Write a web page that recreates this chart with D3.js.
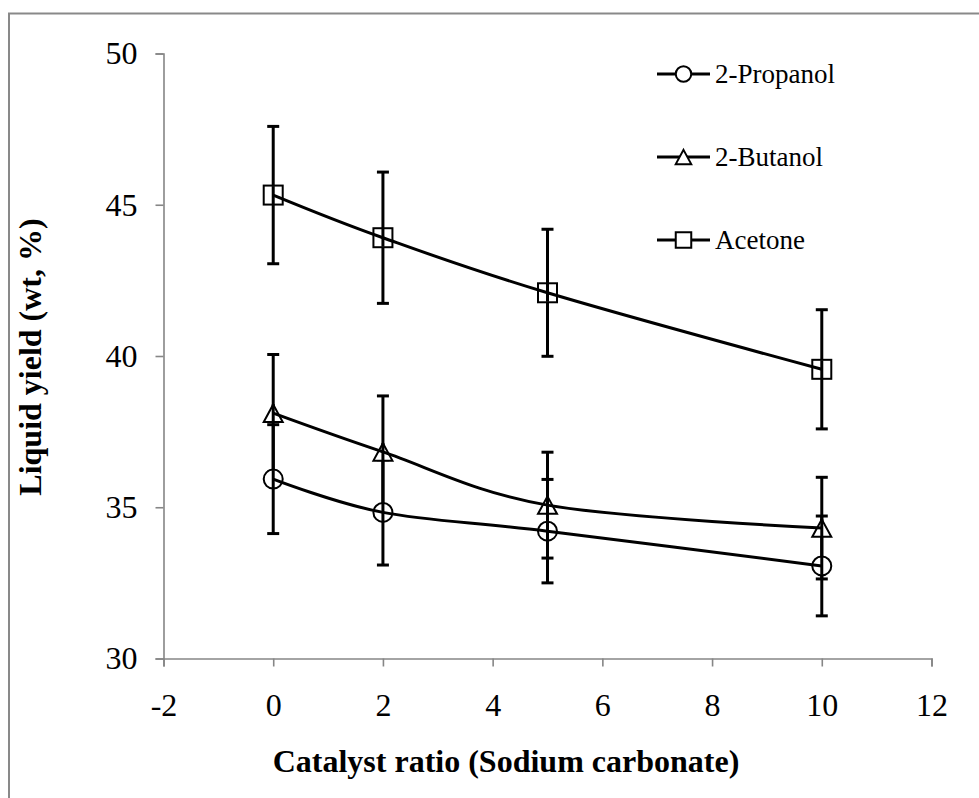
<!DOCTYPE html>
<html>
<head>
<meta charset="utf-8">
<script src="https://cdn.jsdelivr.net/npm/d3@7"></script>
<style>
  html, body { margin: 0; padding: 0; background: #fff; }
  svg { display: block; }
  text { font-family: "Liberation Serif", "Times New Roman", serif; fill: #000; }
</style>
</head>
<body>
<svg id="chart" width="979" height="798"></svg>
<script>
// Catalyst ratios (x) and liquid yields with standard deviations
const catalystRatio = [0, 2, 5, 10];

const propanolYield = [35.93, 34.83, 34.21, 33.06];
const propanolErr   = [1.80, 1.74, 1.71, 1.65];

const butanolYield  = [38.11, 36.83, 35.07, 34.31];
const butanolErr    = [1.94, 1.85, 1.75, 1.68];

const acetoneYield  = [45.32, 43.91, 42.09, 39.56];
const acetoneErr    = [2.27, 2.17, 2.10, 1.97];

const seriesNames = ["2-Propanol", "2-Butanol", "Acetone"];
const markerKinds = ["circle", "triangle", "square"];

const xTicks = [-2, 0, 2, 4, 6, 8, 10, 12];
const yTicks = [30, 35, 40, 45, 50];

const xTitle = "Catalyst ratio (Sodium carbonate)";
const yTitle = "Liquid yield (wt, %)";

const series = [
  { name: seriesNames[0], marker: markerKinds[0], y: propanolYield, e: propanolErr },
  { name: seriesNames[1], marker: markerKinds[1], y: butanolYield,  e: butanolErr },
  { name: seriesNames[2], marker: markerKinds[2], y: acetoneYield,  e: acetoneErr }
];

const svg = d3.select("#chart");
const axisGray = "#868686";

// outer chart frame (extends past the right and bottom edges)
svg.append("rect")
  .attr("x", 9).attr("y", 13.5)
  .attr("width", 1000).attr("height", 1000)
  .attr("fill", "none").attr("stroke", "#898989").attr("stroke-width", 2);

const x = d3.scaleLinear().domain([-2, 12]).range([163.5, 931.5]);
const y = d3.scaleLinear().domain([30, 50]).range([658.5, 53.5]);

const plainFormat = d => String(d);

// y axis
const yAxis = svg.append("g")
  .attr("transform", `translate(${x(-2)},0)`)
  .call(d3.axisLeft(y).tickValues(yTicks).tickSize(8).tickPadding(18).tickFormat(plainFormat));
yAxis.select(".domain").attr("stroke", axisGray).attr("stroke-width", 1.6);
yAxis.selectAll(".tick line").attr("stroke", axisGray).attr("stroke-width", 1.6);
yAxis.selectAll(".tick text")
  .style("font-family", '"Liberation Serif", serif')
  .style("font-size", "32px").attr("fill", "#000");

// x axis
const xAxis = svg.append("g")
  .attr("transform", `translate(0,${y(30)})`)
  .call(d3.axisBottom(x).tickValues(xTicks).tickSize(8).tickPadding(27).tickFormat(plainFormat));
xAxis.select(".domain").attr("stroke", axisGray).attr("stroke-width", 1.6);
xAxis.selectAll(".tick line").attr("stroke", axisGray).attr("stroke-width", 1.6);
xAxis.selectAll(".tick text")
  .style("font-family", '"Liberation Serif", serif')
  .style("font-size", "32px").attr("fill", "#000");

// axis titles
svg.append("text")
  .attr("x", 506).attr("y", 772)
  .attr("text-anchor", "middle")
  .style("font-size", "32px").style("font-weight", "bold")
  .text(xTitle);

svg.append("text")
  .attr("transform", `translate(41,357) rotate(-90)`)
  .attr("text-anchor", "middle")
  .style("font-size", "32px").style("font-weight", "bold")
  .text(yTitle);

// marker drawing helper
function drawMarker(g, kind, cx, cy, s) {
  if (kind === "circle") {
    g.append("circle").attr("cx", cx).attr("cy", cy).attr("r", s / 2)
      .attr("fill", "#fff").attr("stroke", "#000").attr("stroke-width", 2);
  } else if (kind === "square") {
    g.append("rect").attr("x", cx - s / 2).attr("y", cy - s / 2)
      .attr("width", s).attr("height", s)
      .attr("fill", "#fff").attr("stroke", "#000").attr("stroke-width", 2);
  } else {
    const h = s * 0.92;
    g.append("path")
      .attr("d", `M${cx},${cy - h / 2}L${cx + s / 2},${cy + h / 2}L${cx - s / 2},${cy + h / 2}Z`)
      .attr("fill", "#fff").attr("stroke", "#000").attr("stroke-width", 2);
  }
}

const line = d3.line()
  .x((d, i) => x(catalystRatio[i]))
  .y(d => y(d))
  .curve(d3.curveCardinal.tension(0));

const plot = svg.append("g");

// error bars
series.forEach(s => {
  const g = plot.append("g");
  s.y.forEach((v, i) => {
    const cx = x(catalystRatio[i]);
    const top = y(v + s.e[i]), bot = y(v - s.e[i]);
    g.append("line").attr("x1", cx).attr("x2", cx).attr("y1", top).attr("y2", bot)
      .attr("stroke", "#000").attr("stroke-width", 3);
    [top, bot].forEach(yy => {
      g.append("line").attr("x1", cx - 6).attr("x2", cx + 6).attr("y1", yy).attr("y2", yy)
        .attr("stroke", "#000").attr("stroke-width", 3);
    });
  });
});

// markers, smoothed lines
series.forEach(s => {
  const g = plot.append("g");
  s.y.forEach((v, i) => drawMarker(g, s.marker, x(catalystRatio[i]), y(v), 19));
  g.append("path").datum(s.y).attr("d", line)
    .attr("fill", "none").attr("stroke", "#000").attr("stroke-width", 3);
  s.y.forEach((v, i) => {
    const cx = x(catalystRatio[i]);
    g.append("line").attr("x1", cx).attr("x2", cx)
      .attr("y1", y(v) - 9).attr("y2", y(v) + 9)
      .attr("stroke", "#000").attr("stroke-width", 3);
  });
});

// legend
const legendRows = [74, 157, 240];
series.forEach((s, i) => {
  const g = svg.append("g");
  const ly = legendRows[i];
  g.append("line").attr("x1", 657).attr("x2", 710).attr("y1", ly).attr("y2", ly)
    .attr("stroke", "#000").attr("stroke-width", 3);
  drawMarker(g, s.marker, 683.5, ly, 15.5);
  g.append("text").attr("x", 715).attr("y", ly + 9)
    .style("font-size", "27px").text(s.name);
});
</script>
</body>
</html>
